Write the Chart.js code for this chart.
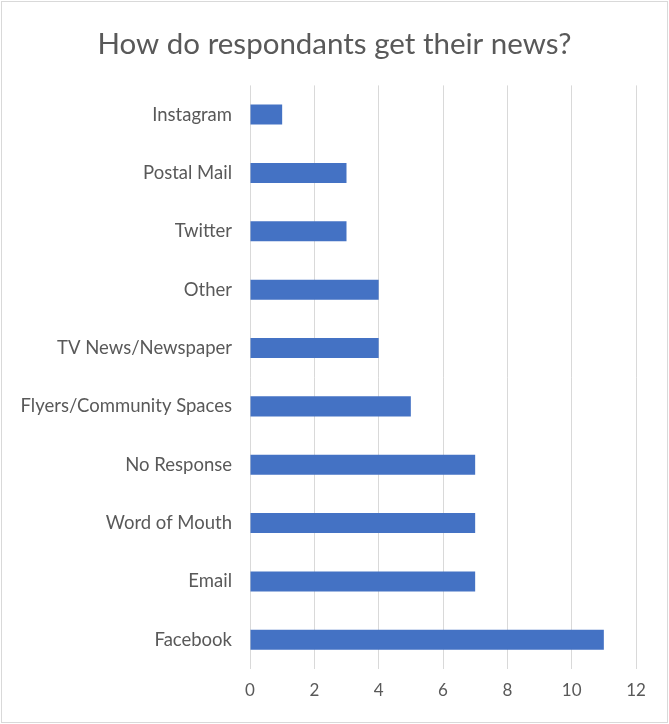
<!DOCTYPE html>
<html><head><meta charset="utf-8">
<script src="https://cdn.jsdelivr.net/npm/chart.js@4/dist/chart.umd.min.js"></script>
<style>html,body{margin:0;padding:0;background:#fff}#wrap{width:669px;height:724px;position:relative}</style>
</head><body><div id="wrap"><canvas id="c" width="669" height="724"></canvas></div>
<script>
const categories = ["Instagram","Postal Mail","Twitter","Other","TV News/Newspaper","Flyers/Community Spaces","No Response","Word of Mouth","Email","Facebook"];
const counts = [1,3,3,4,4,5,7,7,7,11];
const xTicks = [0,2,4,6,8,10,12];
const titleText = "How do respondants get their news?";

const borderPlugin = {id:'border', beforeDraw(chart){const c=chart.ctx;c.save();c.fillStyle='#fff';c.fillRect(0,0,chart.width,chart.height);c.strokeStyle='#d9d9d9';c.lineWidth=1;c.strokeRect(1.5,1.5,chart.width-3,chart.height-3);c.restore();}};

new Chart(document.getElementById('c'), {
  type:'bar',
  data:{labels:categories, datasets:[{data:counts, backgroundColor:'#4472C4', borderWidth:0, barPercentage:0.343, categoryPercentage:1.0}]},
  options:{
    indexAxis:'y', responsive:false, animation:false, devicePixelRatio:1,
    layout:{padding:{left:0,right:0,top:0,bottom:0}},
    plugins:{legend:{display:false}, tooltip:{enabled:false},
      title:{display:true, text:titleText, color:'#595959', font:{family:'Lato', size:29.5, weight:'normal'}, padding:{top:27,bottom:23}}},
    scales:{
      x:{min:0,max:12, afterBuildTicks(s){s.ticks=xTicks.map(v=>({value:v}));},
        grid:{color:'#d9d9d9', drawTicks:false}, border:{display:false},
        ticks:{color:'#595959', font:{family:'Lato', size:17}, padding:11},
        afterFit(s){s.height=55;}},
      y:{grid:{display:false, drawTicks:false}, border:{display:false},
        ticks:{color:'#595959', font:{family:'Lato', size:18.5}, padding:18},
        afterFit(s){s.width=250;}},
      yr:{type:'linear', position:'right', display:true, grid:{display:false, drawTicks:false}, border:{display:false},
        ticks:{display:false}, afterFit(s){s.width=33;}}
    }
  },
  plugins:[borderPlugin]
});
</script></body></html>
